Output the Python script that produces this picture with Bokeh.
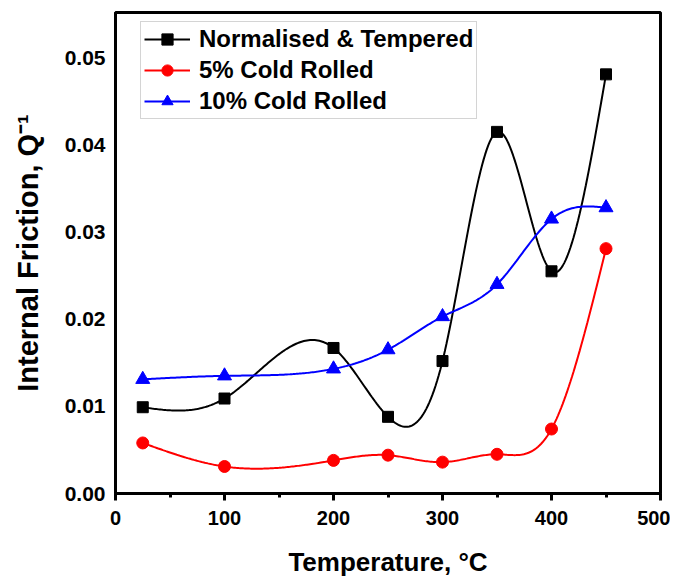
import numpy as np
from bokeh.plotting import figure
from bokeh.models import Range1d, SingleIntervalTicker, FixedTicker, NumeralTickFormatter, Legend
from bokeh.embed import file_html
from bokeh.resources import INLINE

# ---- data ----
temperature = [25, 100, 200, 250, 300, 350, 400, 450]
normalised_tempered = [0.0099, 0.0109, 0.0167, 0.0088, 0.0152, 0.0415, 0.0255, 0.0481]
cold_rolled_5 = [0.0058, 0.0031, 0.0038, 0.0044, 0.0036, 0.0045, 0.0074, 0.0281]
cold_rolled_10 = [0.0131, 0.0135, 0.0143, 0.0165, 0.0203, 0.0240, 0.0315, 0.0328]
series_names = ["Normalised & Tempered", "5% Cold Rolled", "10% Cold Rolled"]
y_ticks = [0.0, 0.01, 0.02, 0.03, 0.04, 0.05]


def natural_spline(xs, ys, n=300):
    """Smooth connecting line (natural cubic spline) through the data points."""
    x = np.asarray(xs, float)
    y = np.asarray(ys, float)
    m = len(x)
    h = np.diff(x)
    A = np.zeros((m, m))
    b = np.zeros(m)
    A[0, 0] = 1.0
    A[-1, -1] = 1.0
    for i in range(1, m - 1):
        A[i, i - 1] = h[i - 1]
        A[i, i] = 2 * (h[i - 1] + h[i])
        A[i, i + 1] = h[i]
        b[i] = 6 * ((y[i + 1] - y[i]) / h[i] - (y[i] - y[i - 1]) / h[i - 1])
    M = np.linalg.solve(A, b)
    xx = np.linspace(x[0], x[-1], n)
    idx = np.clip(np.searchsorted(x, xx) - 1, 0, m - 2)
    x0, x1 = x[idx], x[idx + 1]
    y0, y1 = y[idx], y[idx + 1]
    M0, M1 = M[idx], M[idx + 1]
    hh = x1 - x0
    t1 = x1 - xx
    t0 = xx - x0
    yy = (M0 * t1 ** 3 + M1 * t0 ** 3) / (6 * hh) + (y0 / hh - M0 * hh / 6) * t1 + (y1 / hh - M1 * hh / 6) * t0
    return xx, yy


FONT = "Liberation Sans"

p = figure(width=670, height=579, output_backend="svg", toolbar_location=None,
           x_range=Range1d(0, 500), y_range=Range1d(0, 0.0552),
           min_border_left=115, min_border_right=10, min_border_top=12, min_border_bottom=86)

p.background_fill_color = "white"
p.border_fill_color = "white"
p.outline_line_color = "black"
p.outline_line_width = 3
p.xgrid.visible = False
p.ygrid.visible = False

# x axis
xa = p.xaxis[0]
xa.ticker = SingleIntervalTicker(interval=100, num_minor_ticks=2)
xa.axis_line_width = 3
xa.major_tick_line_width = 3
xa.minor_tick_line_width = 3
xa.major_tick_in = 0
xa.major_tick_out = 7
xa.minor_tick_in = 0
xa.minor_tick_out = 4
xa.major_label_text_font = FONT
xa.major_label_text_font_style = "bold"
xa.major_label_text_font_size = "20px"
xa.major_label_text_color = "black"
xa.major_label_standoff = 10
xa.axis_label = "Temperature, °C"
xa.axis_label_text_font = FONT
xa.axis_label_text_font_style = "bold"
xa.axis_label_text_font_size = "26px"
xa.axis_label_text_color = "black"
xa.axis_label_standoff = 19

# y axis
ya = p.yaxis[0]
ya.ticker = FixedTicker(ticks=y_ticks)
ya.formatter = NumeralTickFormatter(format="0.00")
ya.axis_line_width = 3
ya.major_tick_in = 0
ya.major_tick_out = 0
ya.minor_tick_in = 0
ya.minor_tick_out = 0
ya.major_label_text_font = FONT
ya.major_label_text_font_style = "bold"
ya.major_label_text_font_size = "21px"
ya.major_label_text_color = "black"
ya.major_label_standoff = 10
ya.axis_label = "Internal Friction, Q⁻¹"
ya.axis_label_text_font = FONT
ya.axis_label_text_font_style = "bold"
ya.axis_label_text_font_size = "29px"
ya.axis_label_text_color = "black"
ya.axis_label_standoff = 18

items = []
specs = [
    (normalised_tempered, "black", "square", 11),
    (cold_rolled_5, "red", "circle", 12),
    (cold_rolled_10, "blue", "triangle", 14),
]
for name, (vals, col, marker, size) in zip(series_names, specs):
    sx, sy = natural_spline(temperature, vals)
    ln = p.line(sx, sy, line_color=col, line_width=2)
    sc = p.scatter(temperature, vals, marker=marker, size=size, fill_color=col, line_color=col)
    items.append((name, [ln, sc]))

legend = Legend(items=items, location=(25, 374))
legend.label_text_font = FONT
legend.label_text_font_style = "bold"
legend.label_text_font_size = "24px"
legend.label_text_color = "black"
legend.glyph_width = 46
legend.glyph_height = 28
legend.label_height = 28
legend.spacing = 3
legend.padding = 3
legend.label_standoff = 9
legend.border_line_color = "#aaaaaa"
legend.border_line_width = 1
legend.background_fill_alpha = 1.0
legend.margin = 0
p.add_layout(legend, "center")

open("out.html", "w").write(file_html(p, INLINE))
